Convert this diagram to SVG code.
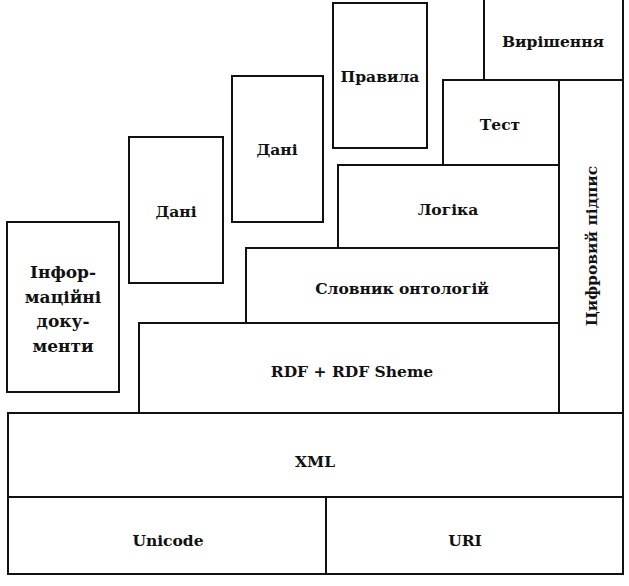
<svg xmlns="http://www.w3.org/2000/svg" width="629" height="586" viewBox="0 0 629 586">
<style>
.b{fill:#fff;stroke:#111;stroke-width:2}
.t{font-family:'DejaVu Serif','Liberation Serif',serif;font-weight:bold;font-size:15.5px;fill:#111;text-anchor:middle;dominant-baseline:central}
.i{font-size:17px}
</style>
<rect width="629" height="586" fill="#fff"/>
<g id="info"><rect class="b" x="7" y="222" width="112" height="170"/>
<text class="t i" x="63" y="272">Інфор-</text><text class="t i" x="63" y="297">маційні</text><text class="t i" x="63" y="321">доку-</text><text class="t i" x="63" y="346">менти</text></g>
<g id="dani1"><rect class="b" x="129" y="137" width="94" height="146"/><text class="t" x="176" y="211">Дані</text></g>
<g id="dani2"><rect class="b" x="232" y="76" width="91" height="146"/><text class="t" x="277" y="149">Дані</text></g>
<g id="pravyla"><rect class="b" x="333" y="3" width="94" height="145"/><text class="t" x="380" y="76">Правила</text></g>
<g id="vyrishennya"><rect class="b" x="484" y="-2" width="139" height="82"/><text class="t" x="553" y="41">Вирішення</text></g>
<g id="test"><rect class="b" x="443" y="80" width="116" height="85"/><text class="t" x="500" y="124">Тест</text></g>
<g id="pidpys"><rect class="b" x="559" y="80" width="64" height="333"/><text class="t" x="591" y="246" transform="rotate(-90 591 246)">Цифровий підпис</text></g>
<g id="logika"><rect class="b" x="338" y="165" width="221" height="83"/><text class="t" x="448" y="209">Логіка</text></g>
<g id="slovnyk"><rect class="b" x="246" y="248" width="313" height="75"/><text class="t" x="402" y="288">Словник онтологій</text></g>
<g id="rdf"><rect class="b" x="139" y="323" width="420" height="90"/><text class="t" x="352" y="371">RDF + RDF Sheme</text></g>
<g id="xml"><rect class="b" x="8" y="413" width="615" height="84"/><text class="t" x="315" y="461">XML</text></g>
<g id="unicode"><rect class="b" x="8" y="497" width="318" height="77"/><text class="t" x="168" y="540">Unicode</text></g>
<g id="uri"><rect class="b" x="326" y="497" width="297" height="77"/><text class="t" x="465" y="540">URI</text></g>
<g id="connectors"></g>
</svg>
